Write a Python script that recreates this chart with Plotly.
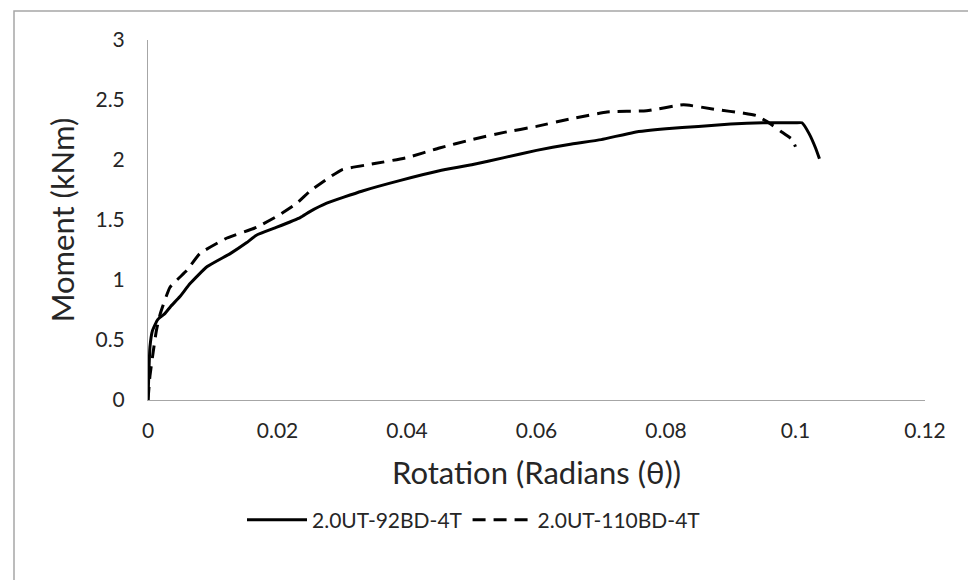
import plotly.graph_objects as go

rot_92 = [0, 0.0003, 0.0007, 0.0015, 0.0026, 0.0035, 0.0049, 0.0065, 0.0091, 0.0127, 0.0152, 0.0168,
          0.0199, 0.0235, 0.025, 0.0276, 0.033, 0.039, 0.045, 0.05, 0.055, 0.06, 0.065, 0.07,
          0.075, 0.08, 0.085, 0.09, 0.095, 0.1, 0.101, 0.1021, 0.1031, 0.1037]
mom_92 = [0, 0.44, 0.58, 0.67, 0.72, 0.78, 0.86, 0.97, 1.11, 1.22, 1.31, 1.375,
          1.44, 1.52, 1.57, 1.64, 1.74, 1.83, 1.91, 1.96, 2.02, 2.08, 2.13, 2.17,
          2.23, 2.26, 2.28, 2.30, 2.31, 2.31, 2.31, 2.22, 2.10, 2.01]

rot_110 = [0, 0.0003, 0.0008, 0.0013, 0.0019, 0.0034, 0.006, 0.008, 0.0122, 0.0168, 0.0199, 0.023,
           0.025, 0.0276, 0.03, 0.035, 0.04, 0.045, 0.05, 0.055, 0.06, 0.065, 0.0709, 0.077,
           0.0827, 0.0878, 0.092, 0.094, 0.0956, 0.0977, 0.0995, 0.1]
mom_110 = [0, 0.2, 0.4, 0.58, 0.72, 0.94, 1.08, 1.22, 1.35, 1.44, 1.53, 1.64,
           1.74, 1.84, 1.92, 1.97, 2.02, 2.1, 2.17, 2.23, 2.28, 2.34, 2.40, 2.41,
           2.46, 2.42, 2.39, 2.37, 2.32, 2.24, 2.17, 2.11]

x_ticks = [0, 0.02, 0.04, 0.06, 0.08, 0.1, 0.12]
x_tick_labels = ["0", "0.02", "0.04", "0.06", "0.08", "0.1", "0.12"]
y_ticks = [0, 0.5, 1, 1.5, 2, 2.5, 3]
y_tick_labels = ["0", "0.5", "1", "1.5", "2", "2.5", "3"]

fig = go.Figure()
fig.add_trace(go.Scatter(x=rot_92, y=mom_92, mode="lines", name="2.0UT-92BD-4T",
                         line=dict(color="black", width=3, shape="spline", smoothing=0.4)))
fig.add_trace(go.Scatter(x=rot_110, y=mom_110, mode="lines", name="2.0UT-110BD-4T",
                         line=dict(color="black", width=3, dash="13px,8px",
                                   shape="spline", smoothing=0.4)))

font_family = "Lato, Open Sans, sans-serif"
OFF = 8  # page body margin
L, R, T, B = 148 - OFF, 925 - OFF, 40 - OFF, 400 - OFF
W, H = 976, 580
pw, ph = R - L, B - T

fig.update_layout(
    width=W, height=H,
    margin=dict(l=L, r=W - R, t=T, b=H - B, autoexpand=False),
    paper_bgcolor="white", plot_bgcolor="white",
    font=dict(family=font_family, color="#262626", size=21),
    showlegend=True,
    legend=dict(orientation="h", x=(474 - OFF - L) / pw, xanchor="center",
                y=(B - (520 - OFF)) / ph, yanchor="middle",
                font=dict(size=21, color="#262626"), itemwidth=60,
                bgcolor="rgba(0,0,0,0)"),
    xaxis=dict(range=[0, 0.12], tickvals=x_ticks, ticktext=x_tick_labels,
               showgrid=False, zeroline=False, showline=True, linecolor="#a6a6a6",
               linewidth=1, ticks="", ticklabelstandoff=12,
               tickfont=dict(size=21, color="#262626"),
               title=dict(text="Rotation (Radians (θ))", font=dict(size=31, color="#262626"),
                          standoff=21)),
    yaxis=dict(range=[0, 3], tickvals=y_ticks, ticktext=y_tick_labels,
               showgrid=False, zeroline=False, showline=True, linecolor="#a6a6a6",
               linewidth=1, ticks="", ticklabelstandoff=18,
               tickfont=dict(size=21, color="#262626"),
               title=dict(text="Moment (kNm)", font=dict(size=31, color="#262626"),
                          standoff=11)),
    shapes=[dict(type="rect", xref="paper", yref="paper",
                 x0=(14 - OFF - L) / pw, x1=(974 - OFF - L) / pw,
                 y0=(B - 620) / ph, y1=(B - (11 - OFF)) / ph,
                 line=dict(color="#a6a6a6", width=1.5), fillcolor="rgba(0,0,0,0)",
                 layer="below")],
)

fig.write_html("out.html")
